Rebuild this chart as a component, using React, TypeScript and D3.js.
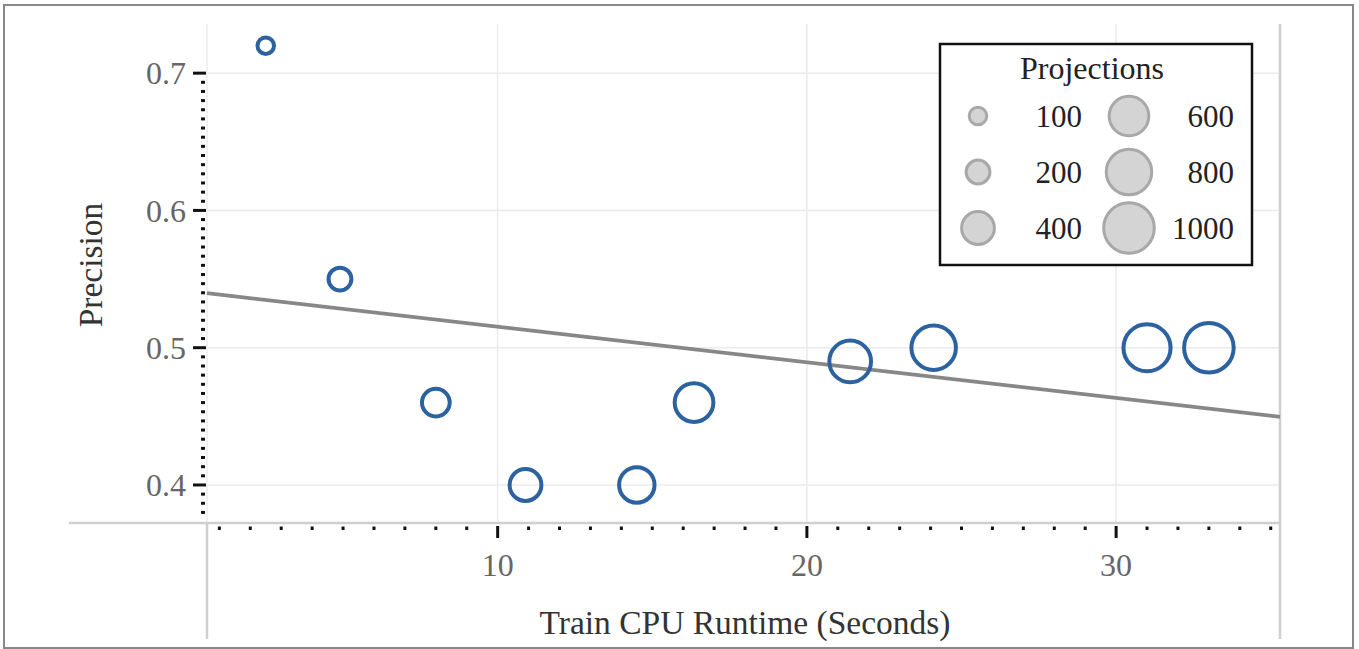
import { useEffect, useRef } from 'react';
import * as d3 from 'd3';

// runtime (s), precision, projections
const runtimes = [2.5, 4.9, 8.0, 10.9, 14.5, 16.35, 21.4, 24.1, 31.0, 33.0];
const precisions = [0.72, 0.55, 0.46, 0.4, 0.4, 0.46, 0.49, 0.5, 0.5, 0.5];
const projections = [100, 200, 300, 400, 500, 600, 700, 800, 900, 1000];

const xTicks = [10, 20, 30];
const yTicks = [0.4, 0.5, 0.6, 0.7];
const legendSizes = [100, 200, 400, 600, 800, 1000];

const App = () => {
  const svgRef = useRef(null);

  useEffect(() => {
    const width = 1359;
    const height = 649;
    const left = 207, right = 1280, top = 24, bottom = 523;
    const font = '"Liberation Serif", "Times New Roman", serif';

    const svg = d3.select(svgRef.current);
    svg.selectAll('*').remove();
    svg.attr('width', width).attr('height', height);

    const x = d3.scaleLinear().domain([0.6, 35.3]).range([left, right]);
    const y = d3.scaleLinear().domain([0.3723, 0.7358]).range([bottom, top]);
    const r = d3.scaleSqrt().domain([0, 1000]).range([0.6, 24.8]);

    const data = runtimes.map((t, i) => ({ t, p: precisions[i], n: projections[i] }));

    svg.append('rect')
      .attr('x', 4).attr('y', 5).attr('width', 1349).attr('height', 643)
      .attr('fill', '#fff').attr('stroke', '#888').attr('stroke-width', 2);

    // grid
    svg.append('g')
      .selectAll('line')
      .data(xTicks)
      .join('line')
      .attr('x1', d => x(d)).attr('x2', d => x(d))
      .attr('y1', top).attr('y2', bottom)
      .attr('stroke', '#ebebeb').attr('stroke-width', 1.5);

    svg.append('g')
      .selectAll('line')
      .data(yTicks)
      .join('line')
      .attr('x1', left).attr('x2', right)
      .attr('y1', d => y(d)).attr('y2', d => y(d))
      .attr('stroke', '#ebebeb').attr('stroke-width', 1.5);

    // frame lines
    svg.append('line')
      .attr('x1', left).attr('x2', left).attr('y1', top).attr('y2', bottom)
      .attr('stroke', '#ededed').attr('stroke-width', 1.5);
    svg.append('line')
      .attr('x1', left).attr('x2', left).attr('y1', bottom).attr('y2', 639)
      .attr('stroke', '#cfcfcf').attr('stroke-width', 2.5);
    svg.append('line')
      .attr('x1', right).attr('x2', right).attr('y1', top).attr('y2', 639)
      .attr('stroke', '#cfcfcf').attr('stroke-width', 2.5);
    svg.append('line')
      .attr('x1', 69).attr('x2', right).attr('y1', bottom).attr('y2', bottom)
      .attr('stroke', '#cfcfcf').attr('stroke-width', 2.5);

    // y ticks
    const yMinor = d3.range(0, 60)
      .map(k => 0.3 + k / 150)
      .filter(v => y(v) >= 26 && y(v) <= 518 && !yTicks.some(t => Math.abs(t - v) < 1e-6));
    svg.append('g')
      .selectAll('line')
      .data(yMinor)
      .join('line')
      .attr('x1', 201).attr('x2', 205)
      .attr('y1', d => y(d)).attr('y2', d => y(d))
      .attr('stroke', '#111').attr('stroke-width', 3);
    svg.append('g')
      .selectAll('line')
      .data(yTicks)
      .join('line')
      .attr('x1', 193).attr('x2', 206)
      .attr('y1', d => y(d)).attr('y2', d => y(d))
      .attr('stroke', '#111').attr('stroke-width', 3);
    svg.append('g')
      .selectAll('text')
      .data(yTicks)
      .join('text')
      .attr('x', 186).attr('y', d => y(d)).attr('dy', '0.35em')
      .attr('text-anchor', 'end')
      .attr('font-family', font).attr('font-size', 32).attr('fill', '#666')
      .text(d => d3.format('.1f')(d));

    // x ticks
    const xMinor = d3.range(1, 36).filter(v => !xTicks.includes(v) && x(v) < right);
    svg.append('g')
      .selectAll('line')
      .data(xMinor)
      .join('line')
      .attr('x1', d => x(d)).attr('x2', d => x(d))
      .attr('y1', 526.5).attr('y2', 530)
      .attr('stroke', '#111').attr('stroke-width', 3);
    svg.append('g')
      .selectAll('line')
      .data(xTicks)
      .join('line')
      .attr('x1', d => x(d)).attr('x2', d => x(d))
      .attr('y1', 526).attr('y2', 538)
      .attr('stroke', '#111').attr('stroke-width', 3);
    svg.append('g')
      .selectAll('text')
      .data(xTicks)
      .join('text')
      .attr('x', d => x(d)).attr('y', 576)
      .attr('text-anchor', 'middle')
      .attr('font-family', font).attr('font-size', 32).attr('fill', '#666')
      .text(d => d);

    // axis titles
    svg.append('text')
      .attr('x', 745).attr('y', 634)
      .attr('text-anchor', 'middle')
      .attr('font-family', font).attr('font-size', 33.5).attr('fill', '#333')
      .text('Train CPU Runtime (Seconds)');
    svg.append('text')
      .attr('transform', 'translate(90,265) rotate(-90)')
      .attr('dy', '0.35em')
      .attr('text-anchor', 'middle')
      .attr('font-family', font).attr('font-size', 33.5).attr('fill', '#333')
      .text('Precision');

    // OLS trend line
    const mx = d3.mean(runtimes);
    const my = d3.mean(precisions);
    const sxy = d3.sum(data, d => (d.t - mx) * (d.p - my));
    const sxx = d3.sum(data, d => (d.t - mx) ** 2);
    const slope = sxy / sxx;
    const icpt = my - slope * mx;
    const [x0, x1] = x.domain();
    svg.append('path')
      .datum([x0, x1])
      .attr('d', d3.line().x(d => x(d)).y(d => y(icpt + slope * d)))
      .attr('fill', 'none').attr('stroke', '#878787').attr('stroke-width', 3.8);

    // points
    svg.append('g')
      .selectAll('circle')
      .data(data)
      .join('circle')
      .attr('cx', d => x(d.t)).attr('cy', d => y(d.p))
      .attr('r', d => r(d.n))
      .attr('fill', 'none').attr('stroke', '#2c62a0').attr('stroke-width', 4);

    // legend
    const lg = svg.append('g');
    lg.append('rect')
      .attr('x', 940).attr('y', 44).attr('width', 312).attr('height', 221)
      .attr('fill', '#fff').attr('stroke', '#111').attr('stroke-width', 2.5);
    lg.append('text')
      .attr('x', 1092).attr('y', 79)
      .attr('text-anchor', 'middle')
      .attr('font-family', font).attr('font-size', 32).attr('fill', '#222')
      .text('Projections');
    const rowY = [116, 172, 228];
    const items = lg.selectAll('g.item')
      .data(legendSizes)
      .join('g')
      .attr('class', 'item')
      .attr('transform', (d, i) => `translate(${i < 3 ? 978 : 1129},${rowY[i % 3]})`);
    items.append('circle')
      .attr('r', d => r(d) + 0.5)
      .attr('fill', '#d4d4d4').attr('stroke', '#a8a8a8').attr('stroke-width', 3);
    items.append('text')
      .attr('x', (d, i) => (i < 3 ? 104 : 105)).attr('dy', '0.35em')
      .attr('text-anchor', 'end')
      .attr('font-family', font).attr('font-size', 31).attr('fill', '#222')
      .text(d => d);
  }, []);

  return (
    <>
      <style>{'body{margin:0}'}</style>
      <svg ref={svgRef} style={{ display: 'block' }}></svg>
    </>
  );
};

export default App;
